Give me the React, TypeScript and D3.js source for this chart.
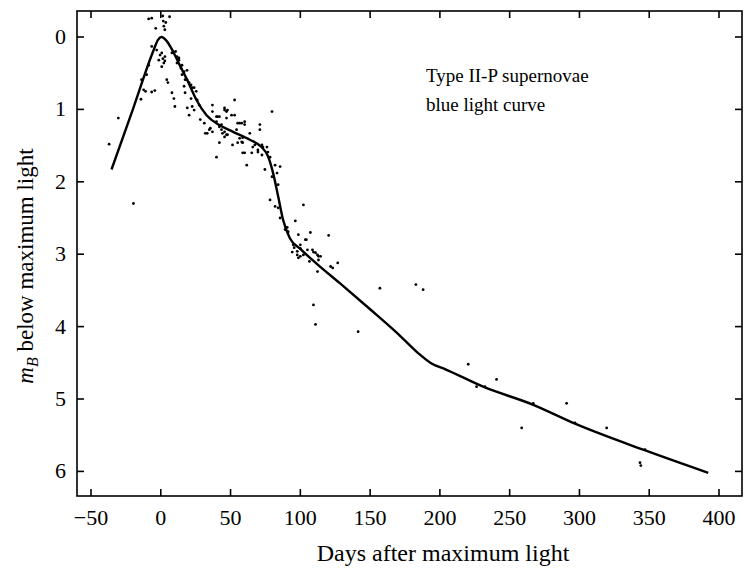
import React from "react";
import * as d3 from "d3";

// Fitted light curve: [days after maximum, magnitudes below maximum]
const curvePoints: [number, number][] = [
  [-35.3, 1.83], [-20, 1.0], [-5.5, 0.2], [-2, 0.04], [0.5, 0], [4, 0.05], [8.8, 0.2],
  [13.6, 0.39], [19.6, 0.62], [25.6, 0.87], [32.8, 1.08], [42.3, 1.22], [51.8, 1.31],
  [63.8, 1.42], [72.2, 1.52], [76.9, 1.65], [80.5, 1.88], [84.1, 2.2], [87.7, 2.53],
  [92.5, 2.78], [99.6, 2.92], [111.6, 3.13], [128.3, 3.4], [150, 3.76], [170, 4.1],
  [184, 4.36], [194, 4.51], [204, 4.59], [231, 4.83], [266.9, 5.08], [296.8, 5.34],
  [345.7, 5.7], [392.3, 6.02],
];

// Individual observations: [days, mag]
const observations: [number, number][] = [
  [-8.7, -0.25], [-6.5, -0.26], [-3.6, -0.12], [1.4, -0.29], [1.8, -0.22], [2.2, -0.15], [2.9, -0.1], [6.3, -0.28], [3.6, -0.2],
  [-6.5, 0.13], [-2.9, 0.18], [-0.5, 0.25], [1.5, 0.3], [2.2, 0.36], [-1.4, 0.32], [0.7, 0.41], [3, 0.27], [0.7, 0.22], [2.9, 0.33],
  [-8.7, 0.39], [-10.1, 0.52], [-12.3, 0.73], [-6.5, 0.76], [4.3, 0.59], [8, 0.77], [10.6, 0.2], [13, 0.29], [14.5, 0.43],
  [16.7, 0.48], [18.8, 0.59], [21.7, 0.66], [23.9, 0.7], [11.6, 0.36], [15.2, 0.39],
  [-13.8, 0.59], [-10.9, 0.75], [-4.3, 0.74], [-14.2, 0.86], [-30.4, 1.12], [-37, 1.48], [-19.6, 2.3], [5.1, 0.63],
  [8, 0.22], [11.6, 0.27], [13, 0.32], [15.2, 0.52], [18.8, 0.46], [17.4, 0.59], [20.3, 0.63], [16.7, 0.68], [22.5, 0.7],
  [25.4, 0.75], [17.4, 0.77], [9.4, 0.85], [10.1, 0.96], [21.7, 0.85], [19, 0.98], [22.5, 0.96], [23.9, 1.01], [20.3, 1.08],
  [28.3, 1.14], [26.1, 0.87], [27.5, 0.94],
  [37, 0.94], [37, 1.03], [45.7, 1.01], [47.1, 1.03], [52.9, 0.87], [50.7, 1.08], [56.5, 1.19], [60.1, 1.17], [54.3, 1.28],
  [63.8, 1.33], [71, 1.21], [71, 1.28], [79.7, 1.03],
  [34.8, 1.28], [37, 1.31], [33.3, 1.33], [42, 1.24], [43.5, 1.28], [44.2, 1.33], [45.7, 1.38], [47.8, 1.35], [42, 1.46],
  [56.5, 1.4], [55.1, 1.46], [58.7, 1.46], [67.4, 1.49], [76.1, 1.52], [31.2, 1.19], [39.9, 1.17], [40.6, 1.1],
  [39.9, 1.1], [45.7, 0.98], [47.8, 1.01], [52.9, 1.08], [42, 1.1], [47.1, 1.12], [35.5, 1.26], [31.9, 1.33], [43.5, 1.21],
  [45.7, 1.31], [47.1, 1.35], [55.1, 1.19], [58, 1.19], [60.1, 1.21], [58, 1.45], [51.4, 1.49], [65.9, 1.52], [72.5, 1.49],
  [76.8, 1.59], [69.6, 1.59], [72.5, 1.63], [78.3, 1.66], [58.7, 1.6], [39.9, 1.66], [61.6, 1.77], [81.9, 1.77], [85.5, 1.79],
  [58.7, 1.39], [60.1, 1.6], [65.2, 1.6], [69.6, 1.56], [73.2, 1.52], [74.6, 1.83], [83.3, 1.88], [79.7, 1.93], [84.1, 2.04],
  [78.3, 2.25], [81.9, 2.34], [84.1, 2.36], [85.5, 2.5], [102.2, 2.32], [96.4, 2.54], [90.6, 2.63], [91.3, 2.69], [98.6, 2.73],
  [107.2, 2.7], [104.3, 2.8], [95.6, 2.91], [97.8, 2.96], [100, 2.87], [108.7, 2.94], [110.9, 2.98], [113, 3.03], [102.2, 3.01],
  [98.6, 3.05],
  [89.1, 2.66], [120.3, 2.74], [103.6, 2.8], [94.9, 2.87], [100, 2.92], [94.2, 2.97], [97.8, 3.01], [100, 3.03], [105.1, 2.94],
  [109.4, 2.97], [112.3, 3.01], [114.5, 3.03], [113, 3.08], [106.5, 3.1], [121.7, 3.17], [123.2, 3.19], [126.8, 3.12],
  [112.3, 3.24], [109.4, 3.7], [110.9, 3.97],
  [141.4, 4.07], [157, 3.47], [182.8, 3.42], [188, 3.49], [220.3, 4.52], [226.3, 4.83], [240.6, 4.73], [232.3, 4.83],
  [266.9, 5.06], [290.8, 5.06], [258.6, 5.4], [296.8, 5.33], [319.5, 5.4], [347, 5.7], [343.4, 5.88], [344, 5.92],
];

const xTicks = [-50, 0, 50, 100, 150, 200, 250, 300, 350, 400];
const yTicks = [0, 1, 2, 3, 4, 5, 6];
const xTitle = "Days after maximum light";
const annotation = ["Type II-P supernovae", "blue light curve"];

const W = 745;
const H = 569;
const frame = { left: 77, right: 742, top: 11, bottom: 496 };
const FONT = "'Liberation Serif', 'Times New Roman', serif";

export default function App() {
  const x = d3.scaleLinear().domain([-50, 400]).range([91, 719]);
  const y = d3.scaleLinear().domain([0, 6]).range([37, 471.4]);
  const line = d3
    .line<[number, number]>()
    .x((d) => x(d[0]))
    .y((d) => y(d[1]))
    .curve(d3.curveMonotoneX);
  const tickLen = 7;
  const fmt = (v: number) => (v < 0 ? "\u2212" + Math.abs(v) : String(v));

  return (
    <svg
      width={W}
      height={H}
      style={{ position: "absolute", left: 0, top: 0, display: "block", background: "#fff" }}
      fontFamily={FONT}
    >
      <rect x={0} y={0} width={W} height={H} fill="#fff" />
      <rect
        x={frame.left}
        y={frame.top}
        width={frame.right - frame.left}
        height={frame.bottom - frame.top}
        fill="none"
        stroke="#000"
        strokeWidth={1.6}
      />
      {xTicks.map((t) => (
        <g key={"xt" + t}>
          <line x1={x(t)} x2={x(t)} y1={frame.bottom} y2={frame.bottom - tickLen} stroke="#000" strokeWidth={1.6} />
          <line x1={x(t)} x2={x(t)} y1={frame.top} y2={frame.top + tickLen} stroke="#000" strokeWidth={1.6} />
          <text x={x(t)} y={525} textAnchor="middle" fontSize={22} fill="#000">
            {fmt(t)}
          </text>
        </g>
      ))}
      {yTicks.map((t) => (
        <g key={"yt" + t}>
          <line x1={frame.left} x2={frame.left + tickLen} y1={y(t)} y2={y(t)} stroke="#000" strokeWidth={1.6} />
          <line x1={frame.right} x2={frame.right - tickLen} y1={y(t)} y2={y(t)} stroke="#000" strokeWidth={1.6} />
          <text x={66} y={y(t) + 7} textAnchor="end" fontSize={22} fill="#000">
            {fmt(t)}
          </text>
        </g>
      ))}
      {observations.map((d, i) => (
        <circle key={"o" + i} cx={x(d[0])} cy={y(d[1])} r={1.4} fill="#000" />
      ))}
      <path d={line(curvePoints) || ""} fill="none" stroke="#000" strokeWidth={2.4} strokeLinejoin="round" />
      {annotation.map((s, i) => (
        <text key={"a" + i} x={426} y={82 + i * 29} fontSize={19} fill="#000">
          {s}
        </text>
      ))}
      <text x={443} y={561} textAnchor="middle" fontSize={24} fill="#000">
        {xTitle}
      </text>
      <text transform="translate(33,266) rotate(-90)" textAnchor="middle" fontSize={23} fill="#000">
        <tspan fontStyle="italic">m</tspan>
        <tspan fontStyle="italic" fontSize={16} dy={5}>B</tspan>
        <tspan dy={-5}> below maximum light</tspan>
      </text>
    </svg>
  );
}
